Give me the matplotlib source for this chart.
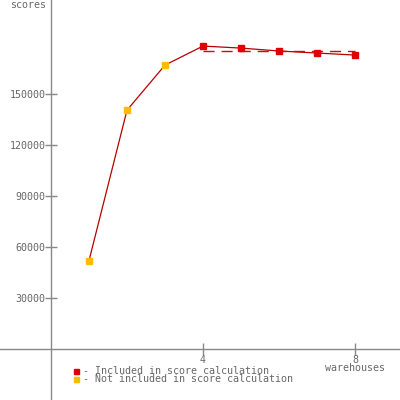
import matplotlib
matplotlib.use("Agg")
import matplotlib.pyplot as plt
import numpy as np

warehouses = [1, 2, 3, 4, 5, 6, 7, 8]
scores = [52000, 140500, 167000, 178200, 177000, 175300, 174100, 172900]
included = [False, False, False, True, True, True, True, True]
yticks = [30000, 60000, 90000, 120000, 150000]
xticks = [4, 8]
legend_labels = ["- Included in score calculation", "- Not included in score calculation"]

FONT = "DejaVu Sans Mono"
TXT = "#666666"
AX = "#888888"
fs = 7.2

fig = plt.figure(figsize=(4, 4), dpi=100)
ax = fig.add_axes([0, 0, 1, 1])
# pixel mapping: x px = 51 + 38*w ; y px = 349 - v*51/30000
ax.set_xlim(-51 / 38, (400 - 51) / 38)
ax.set_ylim(-(400 - 349) * 30000 / 51, 349 * 30000 / 51)

for s in ["top", "right"]:
    ax.spines[s].set_visible(False)
for s in ["left", "bottom"]:
    ax.spines[s].set_position(("data", 0))
    ax.spines[s].set_color(AX)
    ax.spines[s].set_linewidth(1.0)

ax.set_xticks(xticks)
ax.set_xticklabels([str(t) for t in xticks], fontfamily=FONT, fontsize=fs, color=TXT)
ax.set_yticks(yticks)
ax.set_yticklabels([str(t) for t in yticks], fontfamily=FONT, fontsize=fs, color=TXT)
ax.tick_params(axis="both", direction="inout", length=8, width=1, color=AX, pad=0)

w = np.array(warehouses)
v = np.array(scores)
inc = np.array(included)

ax.plot(w, v, color="#b80000", lw=0.9, zorder=2)
ax.plot(w[inc], v[inc], ls="none", marker="s", ms=4.0, color="#e00000", mec="#e00000", zorder=3)
ax.plot(w[~inc], v[~inc], ls="none", marker="s", ms=4.0, color="#ffbb00", mec="#ffbb00", zorder=3)

score = float(np.mean(v[inc]))
ax.plot([w[inc].min(), w[inc].max()], [score, score], color="#e00000", lw=1.0,
        ls=(0, (8, 5)), zorder=2)

# axis titles
fig.text(46 / 400, 1 - 5 / 400, "scores", ha="right", va="center",
         fontfamily=FONT, fontsize=fs, color=TXT)
fig.text(355 / 400, 1 - 368 / 400, "warehouses", ha="center", va="center",
         fontfamily=FONT, fontsize=fs, color=TXT)

# legend
for i, (lab, col) in enumerate(zip(legend_labels, ["#e00000", "#ffbb00"])):
    yy = 371 + 8 * i
    fig.text(83 / 400, 1 - yy / 400, lab, ha="left", va="center",
             fontfamily=FONT, fontsize=fs, color=TXT)
    fig.patches.append(plt.Rectangle((74 / 400, 1 - (yy + 2.5) / 400), 5 / 400, 5 / 400,
                                     transform=fig.transFigure, color=col, figure=fig))

fig.savefig("out.png", dpi=100)
